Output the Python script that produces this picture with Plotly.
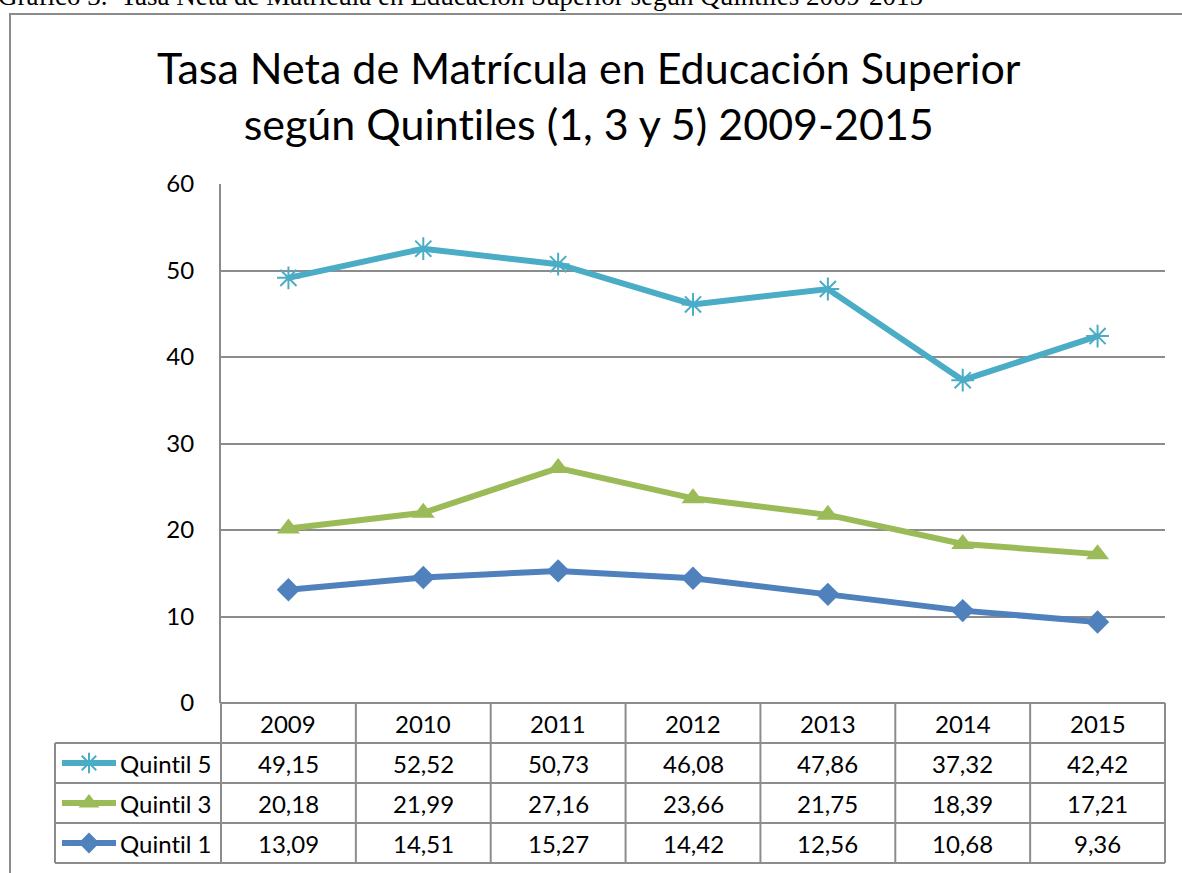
import plotly.graph_objects as go

# data
years = ["2009", "2010", "2011", "2012", "2013", "2014", "2015"]
quintil5 = [49.15, 52.52, 50.73, 46.08, 47.86, 37.32, 42.42]
quintil3 = [20.18, 21.99, 27.16, 23.66, 21.75, 18.39, 17.21]
quintil1 = [13.09, 14.51, 15.27, 14.42, 12.56, 10.68, 9.36]

ZWNJ = "\u200c"  # stops the font from fusing "ti" into a ligature
series = [
    (f"Quint{ZWNJ}il 5", quintil5, "#4BACC6", "asterisk-open", 19),
    (f"Quint{ZWNJ}il 3", quintil3, "#9BBB59", "triangle-up", 20),
    (f"Quint{ZWNJ}il 1", quintil1, "#4F81BD", "diamond", 18),
]

W, H = 1182, 873
FONT = "Lato, Carlito, Calibri, sans-serif"
GRID = "#8C8C8C"


def px(x):
    return x / W


def py(y):
    return 1 - y / H


# plot area in pixels
L, R, T, B = 221, 1165, 184, 703
ROW = 40
col_w = (R - L) / len(years)

fig = go.Figure()

for name, vals, color, sym, size in series:
    fig.add_trace(go.Scatter(
        x=list(range(len(years))), y=vals, mode="lines+markers", name=name,
        line=dict(color=color, width=6),
        marker=dict(symbol=sym, size=size, color=color,
                    line=dict(color=color, width=2 if sym == "asterisk-open" else 0)),
        showlegend=False, xaxis="x", yaxis="y",
    ))

# legend keys inside the data table (second axes over the key column)
row_centers = [B + ROW * 1.5, B + ROW * 2.5, B + ROW * 3.5]
for (name, vals, color, sym, size), yc in zip(series, row_centers):
    fig.add_trace(go.Scatter(
        x=[7, 61], y=[yc, yc], mode="lines", line=dict(color=color, width=6),
        showlegend=False, xaxis="x2", yaxis="y2", hoverinfo="skip",
    ))
    fig.add_trace(go.Scatter(
        x=[34], y=[yc], mode="markers",
        marker=dict(symbol=sym, size=size - 2, color=color,
                    line=dict(color=color, width=2 if sym == "asterisk-open" else 0)),
        showlegend=False, xaxis="x2", yaxis="y2", hoverinfo="skip",
    ))

shapes = []
# outer frame
shapes.append(dict(type="rect", xref="paper", yref="paper", x0=px(10), x1=px(1200),
                   y0=py(900), y1=py(14), line=dict(color="#8C8C8C", width=2)))
# table horizontal lines
for k in range(1, 4 + 1):
    yy = B + ROW * k
    shapes.append(dict(type="line", xref="paper", yref="paper", x0=px(55), x1=px(R),
                       y0=py(yy), y1=py(yy), line=dict(color=GRID, width=2)))
# table top line (axis baseline)
shapes.append(dict(type="line", xref="paper", yref="paper", x0=px(L), x1=px(R),
                   y0=py(B), y1=py(B), line=dict(color=GRID, width=2)))
# table vertical lines
for k in range(len(years) + 1):
    xx = L + col_w * k
    shapes.append(dict(type="line", xref="paper", yref="paper", x0=px(xx), x1=px(xx),
                       y0=py(B), y1=py(B + 4 * ROW), line=dict(color=GRID, width=2)))
shapes.append(dict(type="line", xref="paper", yref="paper", x0=px(55), x1=px(55),
                   y0=py(B + ROW), y1=py(B + 4 * ROW), line=dict(color=GRID, width=2)))

TFONT = dict(family=FONT, size=24, color="black")
annotations = []
# header years
for i, yr in enumerate(years):
    annotations.append(dict(x=i, xref="x", y=py(B + ROW * 0.5), yref="paper", text=yr,
                            showarrow=False, font=TFONT,
                            xanchor="center", yanchor="middle"))
# values
for (name, vals, color, sym, size), yc in zip(series, row_centers):
    annotations.append(dict(x=px(214), xref="paper", y=py(yc), yref="paper", text=name,
                            showarrow=False, font=TFONT,
                            xanchor="right", yanchor="middle"))
    for i, v in enumerate(vals):
        annotations.append(dict(x=i, xref="x", y=py(yc), yref="paper",
                                text=f"{v:.2f}".replace(".", ","),
                                showarrow=False, font=TFONT,
                                xanchor="center", yanchor="middle"))
# title
annotations.append(dict(x=px(589), xref="paper", y=py(95), yref="paper",
                        text=f"Tasa Neta de Matrícula en Educación Superior<br>según Quint{ZWNJ}iles (1, 3 y 5) 2009-2015",
                        showarrow=False, font=dict(family=FONT, size=43, color="black"),
                        xanchor="center", yanchor="middle", align="center"))
# document caption, cut off at the top edge
annotations.append(dict(x=px(-4), xref="paper", y=py(13), yref="paper",
                        text="Gráfico 3.  Tasa Neta de Matrícula en Educación Superior según Quintiles 2009-2015",
                        showarrow=False, font=dict(family="Liberation Serif, Times New Roman, serif",
                                                   size=27, color="black"),
                        xanchor="left", yanchor="bottom"))

fig.update_layout(
    width=W, height=H,
    margin=dict(l=0, r=0, t=0, b=0, autoexpand=False),
    paper_bgcolor="white", plot_bgcolor="white",
    xaxis=dict(domain=[px(L), px(R)], range=[-0.5, len(years) - 0.5],
               showticklabels=False, showgrid=False, zeroline=False,
               showline=False, fixedrange=True, automargin=False),
    yaxis=dict(domain=[py(B), py(T)], range=[0, 60], dtick=10,
               showgrid=True, gridcolor=GRID, gridwidth=1.5,
               zeroline=False, showline=True, linecolor=GRID, linewidth=2,
               tickfont=TFONT, ticks="", ticklabelstandoff=20,
               automargin=False, fixedrange=True),
    xaxis2=dict(domain=[px(55), px(L)], range=[0, L - 55], visible=False,
                fixedrange=True, automargin=False),
    yaxis2=dict(domain=[py(B + 4 * ROW), py(B + ROW)], range=[B + 4 * ROW, B + ROW],
                visible=False, fixedrange=True, automargin=False),
    shapes=shapes,
    annotations=annotations,
)

fig.write_html("out.html", config={"displayModeBar": False},
               post_script="document.body.style.margin='0';")
